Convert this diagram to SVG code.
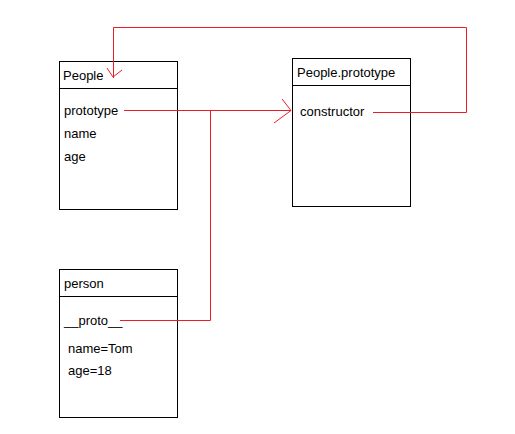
<svg xmlns="http://www.w3.org/2000/svg" width="515" height="434" viewBox="0 0 515 434">
<style>
.box{fill:#fff;stroke:#000;stroke-width:1}
.t{font-family:"Liberation Sans",Arial,sans-serif;font-size:13px;fill:#000}
.c{fill:none;stroke:#ed1c24;stroke-width:1}
</style>
<rect width="515" height="434" fill="#fff"/>
<g id="People">
<rect class="box" x="59.5" y="61.5" width="118" height="148"/>
<line x1="59.5" y1="88.5" x2="177.5" y2="88.5" stroke="#000"/>
<text class="t" x="63" y="80">People</text>
<text class="t" x="64" y="115">prototype</text>
<text class="t" x="64" y="138">name</text>
<text class="t" x="64" y="161">age</text>
</g>
<g id="PeoplePrototype">
<rect class="box" x="292.5" y="58.5" width="118" height="148"/>
<line x1="292.5" y1="85.5" x2="410.5" y2="85.5" stroke="#000"/>
<text class="t" x="297" y="77">People.prototype</text>
<text class="t" x="300" y="116">constructor</text>
</g>
<g id="person">
<rect class="box" x="59.5" y="269.5" width="118" height="148"/>
<line x1="59.5" y1="296.5" x2="177.5" y2="296.5" stroke="#000"/>
<text class="t" x="64" y="288">person</text>
<text class="t" x="64" y="325">__proto__</text>
<text class="t" x="68" y="353">name=Tom</text>
<text class="t" x="68" y="375">age=18</text>
</g>
<g id="connectors">
<polyline class="c" points="124,110.5 291,110.5"/>
<polyline class="c" points="282,99 291,110.5 274,123"/>
<polyline class="c" points="120,320.5 210.5,320.5 210.5,110.5"/>
<polyline class="c" points="373,112.5 466.5,112.5 466.5,27.5 113.5,27.5 113.5,78"/>
<polyline class="c" points="107,68 113,77 122,70"/>
</g>
</svg>
